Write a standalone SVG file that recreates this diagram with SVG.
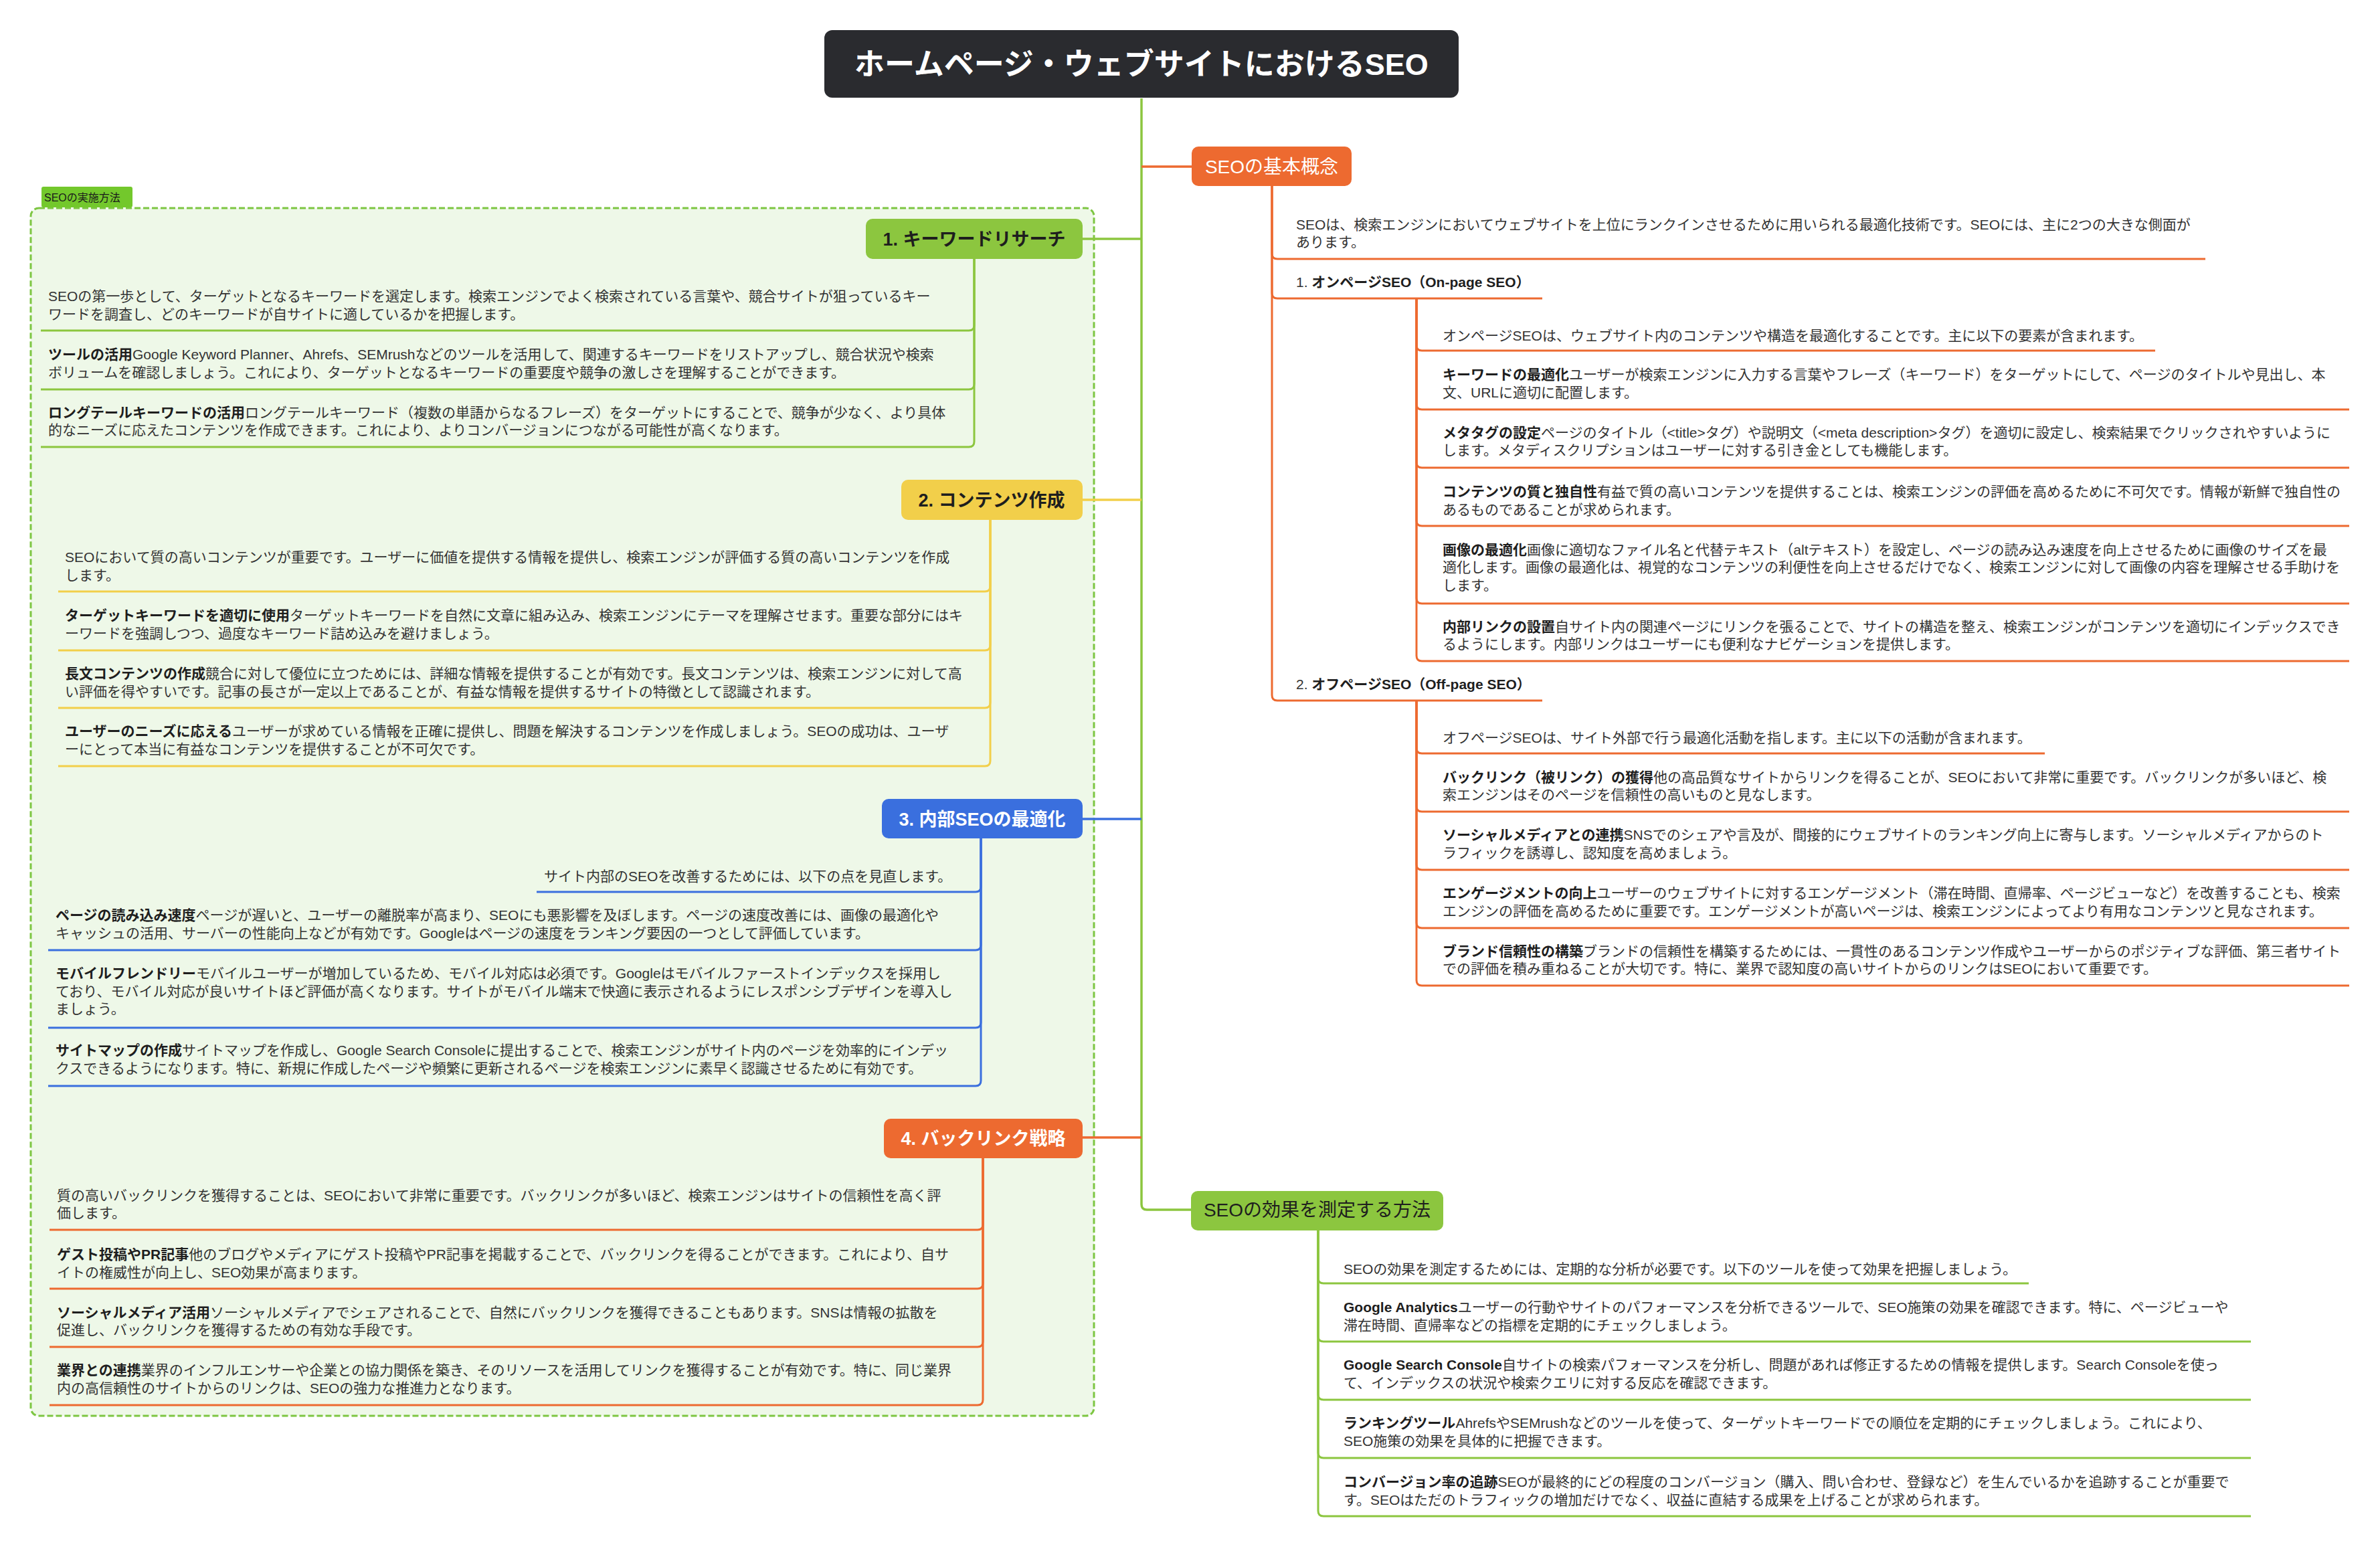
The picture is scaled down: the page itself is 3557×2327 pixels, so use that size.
<svg xmlns="http://www.w3.org/2000/svg" width="3557" height="2327" viewBox="0 0 3557 2327">
<style>
.t{font-family:"Liberation Sans","Noto Sans CJK JP",sans-serif;font-size:21px;fill:#333}
.b{font-weight:bold;fill:#1e1e1e}
.nt{font-family:"Liberation Sans","Noto Sans CJK JP",sans-serif;font-size:28px;text-anchor:middle}
.nb{font-weight:bold;font-size:27px}
.w{fill:#fff}
.d{fill:#1e1e1e}
.cg{stroke:#8cc63f;fill:none;stroke-width:3}
.cy{stroke:#f2cf4a;fill:none;stroke-width:3}
.cb{stroke:#3a6fde;fill:none;stroke-width:3}
.co{stroke:#ed6a30;fill:none;stroke-width:3}
.tr{stroke-width:3.5}
</style>
<rect width="3557" height="2327" fill="#fff"/>
<g id="group-seo-methods">
<rect x="46" y="311" width="1589" height="1805" rx="12" fill="#eef8e8" stroke="#7dc642" stroke-width="3" stroke-dasharray="9 4"/>
<rect x="62" y="279" width="136" height="31" rx="3" fill="#73c82c"/>
<text class="t" x="66" y="301" style="font-size:16px;fill:#1a1a1a">SEOの実施方法</text>
</g>
<g id="connectors">
<path class="cg tr" d="M1706 147 V1800 Q1706 1808 1714 1808 H1780"/>
<path class="co tr" d="M1706 249 H1781"/>
<path class="cg tr" d="M1706 357 H1618"/>
<path class="cy tr" d="M1706 747 H1618"/>
<path class="cb tr" d="M1706 1224 H1618"/>
<path class="co tr" d="M1706 1700 H1618"/>
<path class="co" d="M1901 278 V379 Q1901 387 1909 387 H3296"/>
<path class="co" d="M1901 278 V438 Q1901 446 1909 446 H2305"/>
<path class="co" d="M1901 278 V1039 Q1901 1047 1909 1047 H2305"/>
<path class="co" d="M2117 446 V516 Q2117 524 2125 524 H3221"/>
<path class="co" d="M2117 446 V604 Q2117 612 2125 612 H3511"/>
<path class="co" d="M2117 446 V691 Q2117 699 2125 699 H3511"/>
<path class="co" d="M2117 446 V778 Q2117 786 2125 786 H3511"/>
<path class="co" d="M2117 446 V894 Q2117 902 2125 902 H3511"/>
<path class="co" d="M2117 446 V980 Q2117 988 2125 988 H3511"/>
<path class="co" d="M2117 1047 V1118 Q2117 1126 2125 1126 H3056"/>
<path class="co" d="M2117 1047 V1205 Q2117 1213 2125 1213 H3511"/>
<path class="co" d="M2117 1047 V1292 Q2117 1300 2125 1300 H3511"/>
<path class="co" d="M2117 1047 V1379 Q2117 1387 2125 1387 H3511"/>
<path class="co" d="M2117 1047 V1465 Q2117 1473 2125 1473 H3511"/>
<path class="cg" d="M1970 1839 V1910 Q1970 1918 1978 1918 H3032"/>
<path class="cg" d="M1970 1839 V1997 Q1970 2005 1978 2005 H3364"/>
<path class="cg" d="M1970 1839 V2084 Q1970 2092 1978 2092 H3364"/>
<path class="cg" d="M1970 1839 V2171 Q1970 2179 1978 2179 H3364"/>
<path class="cg" d="M1970 1839 V2258 Q1970 2266 1978 2266 H3364"/>
<path class="cg" d="M1456 387 V486 Q1456 494 1448 494 H61"/>
<path class="cg" d="M1456 387 V574 Q1456 582 1448 582 H61"/>
<path class="cg" d="M1456 387 V660 Q1456 668 1448 668 H61"/>
<path class="cy" d="M1480 777 V876 Q1480 884 1472 884 H87"/>
<path class="cy" d="M1480 777 V964 Q1480 972 1472 972 H87"/>
<path class="cy" d="M1480 777 V1050 Q1480 1058 1472 1058 H87"/>
<path class="cy" d="M1480 777 V1137 Q1480 1145 1472 1145 H87"/>
<path class="cb" d="M1466 1253 V1325 Q1466 1333 1458 1333 H802"/>
<path class="cb" d="M1466 1253 V1412 Q1466 1420 1458 1420 H72"/>
<path class="cb" d="M1466 1253 V1528 Q1466 1536 1458 1536 H72"/>
<path class="cb" d="M1466 1253 V1615 Q1466 1623 1458 1623 H72"/>
<path class="co" d="M1469 1731 V1830 Q1469 1838 1461 1838 H74"/>
<path class="co" d="M1469 1731 V1918 Q1469 1926 1461 1926 H74"/>
<path class="co" d="M1469 1731 V2005 Q1469 2013 1461 2013 H74"/>
<path class="co" d="M1469 1731 V2092 Q1469 2100 1461 2100 H74"/>
</g>
<g id="root">
<rect x="1232" y="45" width="948" height="101" rx="12" fill="#2a2b2f"/>
<text class="nt w" x="1706" y="112" style="font-size:45px;font-weight:bold">ホームページ・ウェブサイトにおけるSEO</text>
</g>
<g id="node-basic">
<rect x="1781" y="219" width="239" height="59" rx="10" fill="#ed6a30"/>
<text class="nt w" x="1900.5" y="259">SEOの基本概念</text>
</g>
<g id="node-basic-children">
<text class="t" x="1937" y="343">SEOは、検索エンジンにおいてウェブサイトを上位にランクインさせるために用いられる最適化技術です。SEOには、主に2つの大きな側面が</text>
<text class="t" x="1937" y="369">あります。</text>
<text class="t" x="1937" y="429">1. <tspan class="b">オンページSEO（On-page SEO）</tspan></text>
<text class="t" x="2156" y="509">オンページSEOは、ウェブサイト内のコンテンツや構造を最適化することです。主に以下の要素が含まれます。</text>
<text class="t" x="2156" y="567"><tspan class="b">キーワードの最適化</tspan>ユーザーが検索エンジンに入力する言葉やフレーズ（キーワード）をターゲットにして、ページのタイトルや見出し、本</text>
<text class="t" x="2156" y="594">文、URLに適切に配置します。</text>
<text class="t" x="2156" y="654"><tspan class="b">メタタグの設定</tspan>ページのタイトル（&lt;title&gt;タグ）や説明文（&lt;meta description&gt;タグ）を適切に設定し、検索結果でクリックされやすいように</text>
<text class="t" x="2156" y="680">します。メタディスクリプションはユーザーに対する引き金としても機能します。</text>
<text class="t" x="2156" y="742"><tspan class="b">コンテンツの質と独自性</tspan>有益で質の高いコンテンツを提供することは、検索エンジンの評価を高めるために不可欠です。情報が新鮮で独自性の</text>
<text class="t" x="2156" y="769">あるものであることが求められます。</text>
<text class="t" x="2156" y="829"><tspan class="b">画像の最適化</tspan>画像に適切なファイル名と代替テキスト（altテキスト）を設定し、ページの読み込み速度を向上させるために画像のサイズを最</text>
<text class="t" x="2156" y="855">適化します。画像の最適化は、視覚的なコンテンツの利便性を向上させるだけでなく、検索エンジンに対して画像の内容を理解させる手助けを</text>
<text class="t" x="2156" y="882">します。</text>
<text class="t" x="2156" y="944"><tspan class="b">内部リンクの設置</tspan>自サイト内の関連ページにリンクを張ることで、サイトの構造を整え、検索エンジンがコンテンツを適切にインデックスでき</text>
<text class="t" x="2156" y="970">るようにします。内部リンクはユーザーにも便利なナビゲーションを提供します。</text>
<text class="t" x="1937" y="1030">2. <tspan class="b">オフページSEO（Off-page SEO）</tspan></text>
<text class="t" x="2156" y="1110">オフページSEOは、サイト外部で行う最適化活動を指します。主に以下の活動が含まれます。</text>
<text class="t" x="2156" y="1169"><tspan class="b">バックリンク（被リンク）の獲得</tspan>他の高品質なサイトからリンクを得ることが、SEOにおいて非常に重要です。バックリンクが多いほど、検</text>
<text class="t" x="2156" y="1195">索エンジンはそのページを信頼性の高いものと見なします。</text>
<text class="t" x="2156" y="1255"><tspan class="b">ソーシャルメディアとの連携</tspan>SNSでのシェアや言及が、間接的にウェブサイトのランキング向上に寄与します。ソーシャルメディアからのト</text>
<text class="t" x="2156" y="1282">ラフィックを誘導し、認知度を高めましょう。</text>
<text class="t" x="2156" y="1342"><tspan class="b">エンゲージメントの向上</tspan>ユーザーのウェブサイトに対するエンゲージメント（滞在時間、直帰率、ページビューなど）を改善することも、検索</text>
<text class="t" x="2156" y="1369">エンジンの評価を高めるために重要です。エンゲージメントが高いページは、検索エンジンによってより有用なコンテンツと見なされます。</text>
<text class="t" x="2156" y="1429"><tspan class="b">ブランド信頼性の構築</tspan>ブランドの信頼性を構築するためには、一貫性のあるコンテンツ作成やユーザーからのポジティブな評価、第三者サイト</text>
<text class="t" x="2156" y="1455">での評価を積み重ねることが大切です。特に、業界で認知度の高いサイトからのリンクはSEOにおいて重要です。</text>
</g>
<g id="node-measure">
<rect x="1780" y="1780" width="377" height="59" rx="10" fill="#8cc63f"/>
<text class="nt d" x="1968.5" y="1818">SEOの効果を測定する方法</text>
</g>
<g id="node-measure-children">
<text class="t" x="2008" y="1904">SEOの効果を測定するためには、定期的な分析が必要です。以下のツールを使って効果を把握しましょう。</text>
<text class="t" x="2008" y="1961"><tspan class="b">Google Analytics</tspan>ユーザーの行動やサイトのパフォーマンスを分析できるツールで、SEO施策の効果を確認できます。特に、ページビューや</text>
<text class="t" x="2008" y="1988">滞在時間、直帰率などの指標を定期的にチェックしましょう。</text>
<text class="t" x="2008" y="2047"><tspan class="b">Google Search Console</tspan>自サイトの検索パフォーマンスを分析し、問題があれば修正するための情報を提供します。Search Consoleを使っ</text>
<text class="t" x="2008" y="2074">て、インデックスの状況や検索クエリに対する反応を確認できます。</text>
<text class="t" x="2008" y="2134"><tspan class="b">ランキングツール</tspan>AhrefsやSEMrushなどのツールを使って、ターゲットキーワードでの順位を定期的にチェックしましょう。これにより、</text>
<text class="t" x="2008" y="2161">SEO施策の効果を具体的に把握できます。</text>
<text class="t" x="2008" y="2222"><tspan class="b">コンバージョン率の追跡</tspan>SEOが最終的にどの程度のコンバージョン（購入、問い合わせ、登録など）を生んでいるかを追跡することが重要で</text>
<text class="t" x="2008" y="2249">す。SEOはただのトラフィックの増加だけでなく、収益に直結する成果を上げることが求められます。</text>
</g>
<g id="node-keyword">
<rect x="1294" y="327" width="324" height="60" rx="10" fill="#8cc63f"/>
<text class="nt nb d" x="1456" y="367">1. キーワードリサーチ</text>
</g>
<g id="node-keyword-children">
<text class="t" x="72" y="450">SEOの第一歩として、ターゲットとなるキーワードを選定します。検索エンジンでよく検索されている言葉や、競合サイトが狙っているキー</text>
<text class="t" x="72" y="477">ワードを調査し、どのキーワードが自サイトに適しているかを把握します。</text>
<text class="t" x="72" y="537"><tspan class="b">ツールの活用</tspan>Google Keyword Planner、Ahrefs、SEMrushなどのツールを活用して、関連するキーワードをリストアップし、競合状況や検索</text>
<text class="t" x="72" y="564">ボリュームを確認しましょう。これにより、ターゲットとなるキーワードの重要度や競争の激しさを理解することができます。</text>
<text class="t" x="72" y="624"><tspan class="b">ロングテールキーワードの活用</tspan>ロングテールキーワード（複数の単語からなるフレーズ）をターゲットにすることで、競争が少なく、より具体</text>
<text class="t" x="72" y="650">的なニーズに応えたコンテンツを作成できます。これにより、よりコンバージョンにつながる可能性が高くなります。</text>
</g>
<g id="node-content">
<rect x="1347" y="717" width="271" height="60" rx="10" fill="#f2cf4a"/>
<text class="nt nb d" x="1482" y="757">2. コンテンツ作成</text>
</g>
<g id="node-content-children">
<text class="t" x="97" y="840">SEOにおいて質の高いコンテンツが重要です。ユーザーに価値を提供する情報を提供し、検索エンジンが評価する質の高いコンテンツを作成</text>
<text class="t" x="97" y="867">します。</text>
<text class="t" x="97" y="927"><tspan class="b">ターゲットキーワードを適切に使用</tspan>ターゲットキーワードを自然に文章に組み込み、検索エンジンにテーマを理解させます。重要な部分にはキ</text>
<text class="t" x="97" y="954">ーワードを強調しつつ、過度なキーワード詰め込みを避けましょう。</text>
<text class="t" x="97" y="1014"><tspan class="b">長文コンテンツの作成</tspan>競合に対して優位に立つためには、詳細な情報を提供することが有効です。長文コンテンツは、検索エンジンに対して高</text>
<text class="t" x="97" y="1041">い評価を得やすいです。記事の長さが一定以上であることが、有益な情報を提供するサイトの特徴として認識されます。</text>
<text class="t" x="97" y="1100"><tspan class="b">ユーザーのニーズに応える</tspan>ユーザーが求めている情報を正確に提供し、問題を解決するコンテンツを作成しましょう。SEOの成功は、ユーザ</text>
<text class="t" x="97" y="1127">ーにとって本当に有益なコンテンツを提供することが不可欠です。</text>
</g>
<g id="node-internal">
<rect x="1318" y="1194" width="300" height="59" rx="10" fill="#3a6fde"/>
<text class="nt nb w" x="1468" y="1234">3. 内部SEOの最適化</text>
</g>
<g id="node-internal-children">
<text class="t" x="813" y="1317">サイト内部のSEOを改善するためには、以下の点を見直します。</text>
<text class="t" x="83" y="1375"><tspan class="b">ページの読み込み速度</tspan>ページが遅いと、ユーザーの離脱率が高まり、SEOにも悪影響を及ぼします。ページの速度改善には、画像の最適化や</text>
<text class="t" x="83" y="1402">キャッシュの活用、サーバーの性能向上などが有効です。Googleはページの速度をランキング要因の一つとして評価しています。</text>
<text class="t" x="83" y="1462"><tspan class="b">モバイルフレンドリー</tspan>モバイルユーザーが増加しているため、モバイル対応は必須です。Googleはモバイルファーストインデックスを採用し</text>
<text class="t" x="83" y="1489">ており、モバイル対応が良いサイトほど評価が高くなります。サイトがモバイル端末で快適に表示されるようにレスポンシブデザインを導入し</text>
<text class="t" x="83" y="1515">ましょう。</text>
<text class="t" x="83" y="1577"><tspan class="b">サイトマップの作成</tspan>サイトマップを作成し、Google Search Consoleに提出することで、検索エンジンがサイト内のページを効率的にインデッ</text>
<text class="t" x="83" y="1604">クスできるようになります。特に、新規に作成したページや頻繁に更新されるページを検索エンジンに素早く認識させるために有効です。</text>
</g>
<g id="node-backlink">
<rect x="1321" y="1672" width="297" height="59" rx="10" fill="#ed6a30"/>
<text class="nt nb w" x="1469.5" y="1711">4. バックリンク戦略</text>
</g>
<g id="node-backlink-children">
<text class="t" x="85" y="1794">質の高いバックリンクを獲得することは、SEOにおいて非常に重要です。バックリンクが多いほど、検索エンジンはサイトの信頼性を高く評</text>
<text class="t" x="85" y="1820">価します。</text>
<text class="t" x="85" y="1882"><tspan class="b">ゲスト投稿やPR記事</tspan>他のブログやメディアにゲスト投稿やPR記事を掲載することで、バックリンクを得ることができます。これにより、自サ</text>
<text class="t" x="85" y="1909">イトの権威性が向上し、SEO効果が高まります。</text>
<text class="t" x="85" y="1969"><tspan class="b">ソーシャルメディア活用</tspan>ソーシャルメディアでシェアされることで、自然にバックリンクを獲得できることもあります。SNSは情報の拡散を</text>
<text class="t" x="85" y="1995">促進し、バックリンクを獲得するための有効な手段です。</text>
<text class="t" x="85" y="2055"><tspan class="b">業界との連携</tspan>業界のインフルエンサーや企業との協力関係を築き、そのリソースを活用してリンクを獲得することが有効です。特に、同じ業界</text>
<text class="t" x="85" y="2082">内の高信頼性のサイトからのリンクは、SEOの強力な推進力となります。</text>
</g>
</svg>
